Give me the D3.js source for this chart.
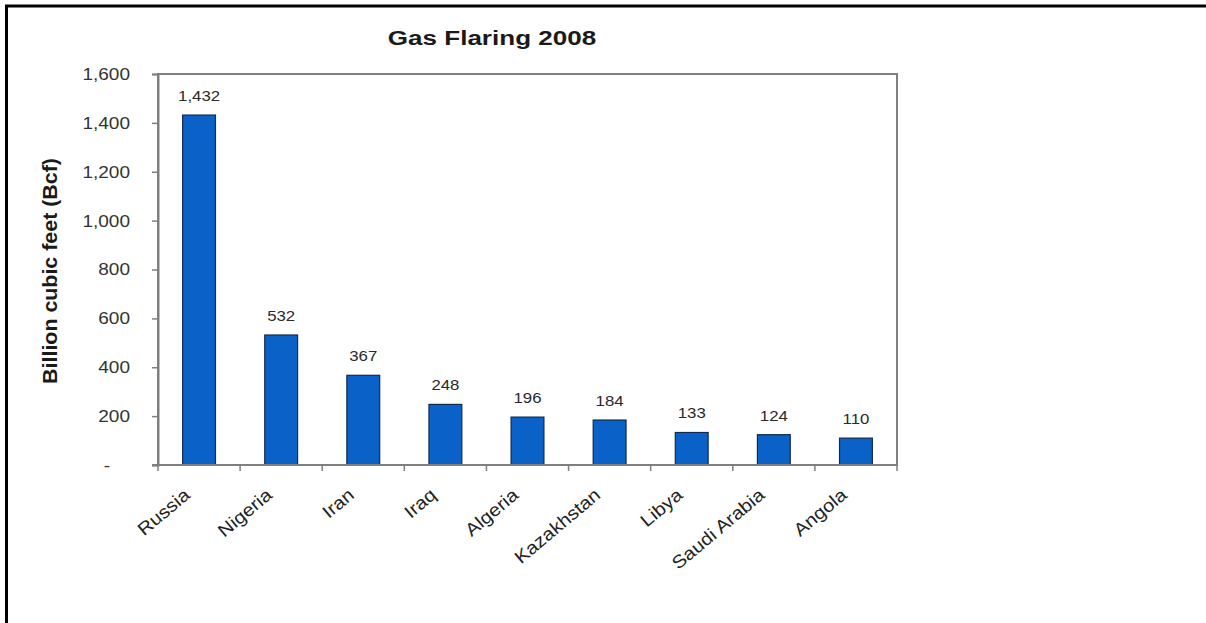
<!DOCTYPE html>
<html>
<head>
<meta charset="utf-8">
<script src="https://cdn.jsdelivr.net/npm/d3@7"></script>
<style>
  html, body { margin: 0; padding: 0; background: #fff; }
  svg { display: block; }
  text { font-family: "Liberation Sans", Arial, sans-serif; }
</style>
</head>
<body>
<svg id="chart" width="1206" height="623"></svg>
<script>
// Gas flaring by country, 2008 (billion cubic feet)
const countries = ["Russia", "Nigeria", "Iran", "Iraq", "Algeria", "Kazakhstan", "Libya", "Saudi Arabia", "Angola"];
const flared = [1432, 532, 367, 248, 196, 184, 133, 124, 110];
const yTicks = [0, 200, 400, 600, 800, 1000, 1200, 1400, 1600];

const svg = d3.select("#chart");
const W = 1206, H = 623;
const SX = 1.12; // wide lettering

// frame around the figure
svg.append("rect")
  .attr("x", 6.5).attr("y", 6)
  .attr("width", W + 20).attr("height", H + 20)
  .attr("fill", "none").attr("stroke", "#000").attr("stroke-width", 3);

const plot = { left: 158, top: 74, right: 897, bottom: 465 };

const x = d3.scaleBand()
  .domain(countries)
  .range([plot.left, plot.right])
  .paddingInner(0.6)
  .paddingOuter(0.3);

const y = d3.scaleLinear()
  .domain([0, 1600])
  .range([plot.bottom, plot.top]);

// plot area outline
svg.append("rect")
  .attr("x", plot.left).attr("y", plot.top)
  .attr("width", plot.right - plot.left).attr("height", plot.bottom - plot.top)
  .attr("fill", "none").attr("stroke", "#7f7f7f").attr("stroke-width", 2);

// bars
svg.append("g").selectAll("rect")
  .data(countries)
  .join("rect")
  .attr("x", d => x(d))
  .attr("y", (d, i) => y(flared[i]))
  .attr("width", x.bandwidth())
  .attr("height", (d, i) => y(0) - y(flared[i]))
  .attr("fill", "#0a62c9")
  .attr("stroke", "#13294f")
  .attr("stroke-width", 1.2);

// value labels
svg.append("g").selectAll("text")
  .data(countries)
  .join("text")
  .attr("transform", (d, i) => `translate(${x(d) + x.bandwidth() / 2},${y(flared[i]) - 14}) scale(${SX},1)`)
  .attr("text-anchor", "middle")
  .attr("font-size", 15)
  .attr("fill", "#2a2a2a")
  .text((d, i) => d3.format(",")(flared[i]));

// y axis
const yAxis = svg.append("g")
  .attr("transform", `translate(${plot.left},0)`)
  .call(d3.axisLeft(y)
    .tickValues(yTicks)
    .tickSize(6)
    .tickPadding(0)
    .tickFormat(v => v === 0 ? "-" : d3.format(",")(v)));
yAxis.select(".domain").attr("stroke", "#7f7f7f").attr("stroke-width", 2);
yAxis.selectAll(".tick line").attr("stroke", "#7f7f7f").attr("stroke-width", 1.5);
yAxis.selectAll(".tick text")
  .attr("x", null)
  .attr("transform", v => `translate(${v === 0 ? -48 : -28},0) scale(${SX},1)`)
  .attr("font-size", 17)
  .attr("fill", "#333");

// x axis: ticks sit on category boundaries
const boundaries = d3.range(countries.length + 1).map(i => plot.left + i * (plot.right - plot.left) / countries.length);
svg.append("g").selectAll("line")
  .data(boundaries)
  .join("line")
  .attr("x1", d => d).attr("x2", d => d)
  .attr("y1", plot.bottom).attr("y2", plot.bottom + 6)
  .attr("stroke", "#7f7f7f").attr("stroke-width", 1.5);
svg.append("line")
  .attr("x1", plot.left - 6).attr("x2", plot.right)
  .attr("y1", plot.bottom).attr("y2", plot.bottom)
  .attr("stroke", "#7f7f7f").attr("stroke-width", 2);

// rotated category labels
svg.append("g").selectAll("text")
  .data(countries)
  .join("text")
  .attr("transform", d => `translate(${x(d) + x.bandwidth() / 2 - 12},${plot.bottom + 27}) rotate(-40) scale(${SX},1)`)
  .attr("text-anchor", "end")
  .attr("dy", "0.35em")
  .attr("font-size", 18)
  .attr("fill", "#222")
  .text(d => d);

// y axis title
svg.append("text")
  .attr("transform", `translate(57,271) rotate(-90) scale(1.07,1)`)
  .attr("text-anchor", "middle")
  .attr("font-size", 20)
  .attr("font-weight", "bold")
  .attr("fill", "#1a1a1a")
  .text("Billion cubic feet (Bcf)");

// chart title
svg.append("text")
  .attr("transform", `translate(492,45) scale(1.24,1)`)
  .attr("text-anchor", "middle")
  .attr("font-size", 21)
  .attr("font-weight", "bold")
  .attr("fill", "#1a1a1a")
  .text("Gas Flaring 2008");
</script>
</body>
</html>
